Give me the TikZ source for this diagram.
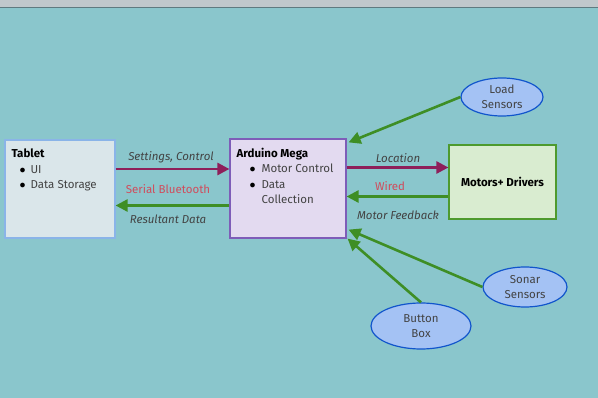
\documentclass[tikz,border=0pt]{standalone}
\usepackage{fontspec}
\setmainfont{Fira Sans}
\usetikzlibrary{shapes,arrows.meta,positioning,calc}
\definecolor{bgteal}{RGB}{138,198,204}
\definecolor{topgray}{RGB}{192,200,204}
\definecolor{lineslate}{RGB}{95,122,128}
\definecolor{tabfill}{RGB}{218,230,234}
\definecolor{tabline}{RGB}{138,180,232}
\definecolor{ardfill}{RGB}{227,218,240}
\definecolor{ardline}{RGB}{126,93,184}
\definecolor{motfill}{RGB}{217,236,208}
\definecolor{motline}{RGB}{78,154,46}
\definecolor{sensfill}{RGB}{164,194,244}
\definecolor{sensline}{RGB}{17,85,204}
\definecolor{sendred}{RGB}{142,31,90}
\definecolor{backgreen}{RGB}{62,142,37}
\definecolor{labred}{RGB}{208,76,92}
\definecolor{txtgray}{RGB}{67,67,67}

\newcommand{\dotitem}{{\color{black}$\bullet$}}

\tikzset{
  block/.style={draw, line width=1.2pt, inner sep=0pt},
  sensor/.style={ellipse, draw=sensline, fill=sensfill, line width=1.2pt,
    minimum width=82pt, minimum height=38pt, align=center, inner sep=0pt,
    text=txtgray, font=\fontsize{11.5}{15}\selectfont},
  boxtext/.style={anchor=north west, align=left, inner sep=0pt,
    text=txtgray, font=\fontsize{11.5}{15.3}\selectfont},
  sendarrow/.style={draw=sendred, line width=2.6pt, -{Triangle[length=12pt,width=12pt]}},
  backarrow/.style={draw=backgreen, line width=2.6pt, -{Triangle[length=12pt,width=12pt]}},
  linklabel/.style={inner sep=0pt, text=txtgray, font=\fontsize{11.5}{13}\selectfont\itshape},
  mediumlabel/.style={inner sep=0pt, text=labred, font=\fontsize{11.5}{13}\selectfont}
}

\begin{document}
\begin{tikzpicture}[x=1pt,y=-1pt]
    \useasboundingbox (0,0) rectangle (598,398);
    % background
    \fill[topgray] (0,0) rectangle (598,7);
    \fill[bgteal] (0,7) rectangle (598,398);
    \draw[lineslate, line width=1.2pt] (0,7.5) -- (598,7.5);

    % blocks
    \node[block, draw=tabline, fill=tabfill, minimum width=110pt, minimum height=98pt] (tablet) at (60,189) {};
    \node[block, draw=ardline, fill=ardfill, minimum width=116pt, minimum height=99pt] (mega) at (288,188.5) {};
    \node[block, draw=motline, fill=motfill, minimum width=107pt, minimum height=74pt,
          font=\fontsize{11.5}{13}\selectfont\bfseries] (motors) at (502.5,182) {Motors+ Drivers};

    \node[boxtext] (tablettext) at ([xshift=7pt,yshift=-9.5pt]tablet.north west)
        {\textbf{\color{black}Tablet}\\
         \hspace*{8pt}\dotitem\hspace{5pt}UI\\
         \hspace*{8pt}\dotitem\hspace{5pt}Data Storage};
    \node[boxtext] (megatext) at ([xshift=7pt,yshift=-9.5pt]mega.north west)
        {\textbf{\color{black}Arduino Mega}\\
         \hspace*{13pt}\dotitem\hspace{6pt}Motor Control\\
         \hspace*{13pt}\dotitem\hspace{6pt}Data\\
         \hspace*{13pt}\phantom{\dotitem}\hspace{6pt}Collection};

    % sensors
    \node[sensor] (load) at (502,97) {Load\\Sensors};
    \node[sensor, minimum width=84pt, minimum height=40pt] (sonar) at (525,287) {Sonar\\Sensors};
    \node[sensor, minimum width=100pt, minimum height=46pt] (button) at (421,326) {Button\\Box};

    % links tablet <-> mega
    \draw[sendarrow] ([yshift=20pt]tablet.east) -- ([yshift=20pt]tablet.east -| mega.west);
    \draw[backarrow] ([yshift=-17pt]mega.west) -- ([yshift=-17pt]mega.west -| tablet.east);
    \node[linklabel] (settings) at (171,157) {Settings, Control};
    \node[mediumlabel] (bluetooth) at (168,189) {Serial Bluetooth};
    \node[linklabel] (resultant) at (168,219) {Resultant Data};

    % links mega <-> motors
    \draw[sendarrow] ([yshift=21pt]mega.east) -- ([yshift=21pt]mega.east -| motors.west);
    \draw[backarrow] ([yshift=-14.5pt]motors.west) -- ([yshift=-14.5pt]motors.west -| mega.east);
    \node[linklabel] (location) at (398,158) {Location};
    \node[mediumlabel] (wired) at (390,186) {Wired};
    \node[linklabel] (feedback) at (398,215) {Motor Feedback};

    % sensor inputs
    \draw[backarrow] (load.west) -- ([xshift=2pt,yshift=-4pt]mega.north east);
    \draw[backarrow] (sonar.west) -- ([xshift=2pt,yshift=9pt]mega.south east);
    \draw[backarrow] (button.north) -- ([xshift=1pt]mega.south east);
\end{tikzpicture}
\end{document}
